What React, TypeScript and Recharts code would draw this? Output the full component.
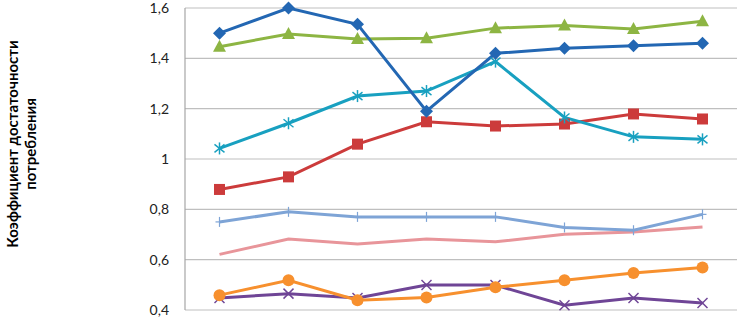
import React from "react";
import { LineChart, Line, XAxis, YAxis, CartesianGrid } from "recharts";

// 8 periods, no visible x labels in the reference crop
const periods = ["1", "2", "3", "4", "5", "6", "7", "8"];

const darkBlue = [1.5, 1.6, 1.535, 1.19, 1.42, 1.44, 1.45, 1.46];
const green = [1.446, 1.497, 1.477, 1.48, 1.52, 1.53, 1.517, 1.547];
const cyan = [1.042, 1.142, 1.25, 1.27, 1.387, 1.165, 1.088, 1.078];
const red = [0.879, 0.929, 1.059, 1.148, 1.131, 1.139, 1.179, 1.159];
const lightBlue = [0.75, 0.79, 0.77, 0.77, 0.77, 0.728, 0.717, 0.78];
const pink = [0.621, 0.682, 0.662, 0.682, 0.671, 0.701, 0.71, 0.73];
const orange = [0.459, 0.518, 0.439, 0.45, 0.49, 0.518, 0.547, 0.569];
const purple = [0.448, 0.465, 0.448, 0.499, 0.499, 0.419, 0.448, 0.428];

const yTicks = [0.4, 0.6, 0.8, 1, 1.2, 1.4, 1.6];

const data = periods.map((p, i) => ({
  period: p,
  darkBlue: darkBlue[i],
  green: green[i],
  cyan: cyan[i],
  red: red[i],
  lightBlue: lightBlue[i],
  pink: pink[i],
  orange: orange[i],
  purple: purple[i],
}));

type Shape = "diamond" | "triangle" | "star" | "square" | "plus" | "circle" | "x";

// marker renderer, Excel-like shapes
function makeDot(shape: Shape, color: string) {
  return (props: any) => {
    const { cx, cy, index } = props;
    const key = `${shape}-${index}`;
    if (cx == null || cy == null) return <g key={key} />;
    switch (shape) {
      case "diamond":
        return (
          <path key={key} d={`M${cx},${cy - 6.5}L${cx + 6.5},${cy}L${cx},${cy + 6.5}L${cx - 6.5},${cy}Z`} fill={color} />
        );
      case "triangle":
        return (
          <path key={key} d={`M${cx},${cy - 7}L${cx + 6.5},${cy + 5}L${cx - 6.5},${cy + 5}Z`} fill={color} />
        );
      case "square":
        return <rect key={key} x={cx - 5.5} y={cy - 5.5} width={11} height={11} fill={color} />;
      case "circle":
        return <circle key={key} cx={cx} cy={cy} r={6} fill={color} />;
      case "star":
        return (
          <g key={key} stroke={color} strokeWidth={1.5}>
            <line x1={cx} y1={cy - 6} x2={cx} y2={cy + 6} />
            <line x1={cx - 5} y1={cy - 4} x2={cx + 5} y2={cy + 4} />
            <line x1={cx - 5} y1={cy + 4} x2={cx + 5} y2={cy - 4} />
          </g>
        );
      case "x":
        return (
          <g key={key} stroke={color} strokeWidth={1.5}>
            <line x1={cx - 5} y1={cy - 5} x2={cx + 5} y2={cy + 5} />
            <line x1={cx - 5} y1={cy + 5} x2={cx + 5} y2={cy - 5} />
          </g>
        );
      case "plus":
        return (
          <g key={key} stroke={color} strokeWidth={1.2}>
            <line x1={cx} y1={cy - 5} x2={cx} y2={cy + 5} />
            <line x1={cx - 4} y1={cy} x2={cx + 4} y2={cy} />
          </g>
        );
    }
    return <g key={key} />;
  };
}

const series: { key: string; color: string; shape: Shape | null }[] = [
  { key: "pink", color: "#E8959A", shape: null },
  { key: "lightBlue", color: "#7EA4D6", shape: "plus" },
  { key: "purple", color: "#6F4596", shape: "x" },
  { key: "orange", color: "#F7902E", shape: "circle" },
  { key: "red", color: "#CC3B3B", shape: "square" },
  { key: "cyan", color: "#18A0C0", shape: "star" },
  { key: "green", color: "#8DB543", shape: "triangle" },
  { key: "darkBlue", color: "#2367B3", shape: "diamond" },
];

function YTitle(props: any) {
  const vb = props.viewBox || { x: 0, y: 0, height: 0 };
  const cy = vb.y + vb.height / 2 - 15;
  return (
    <g fontFamily="Lato, sans-serif" fontWeight={700} fontSize={15} fill="#000">
      <text x={12} y={cy} transform={`rotate(-90 12 ${cy})`} textAnchor="middle" dominantBaseline="central">
        Коэффициент достаточности
      </text>
      <text x={30} y={cy} transform={`rotate(-90 30 ${cy})`} textAnchor="middle" dominantBaseline="central">
        потребления
      </text>
    </g>
  );
}

export default function App() {
  return (
    <div style={{ position: "absolute", left: 0, top: 0, width: 737, height: 320, background: "#fff" }}>
      <LineChart width={737} height={320} data={data} margin={{ top: 8, right: 0, bottom: 10, left: 0 }}>
        <CartesianGrid horizontal vertical={false} stroke="#BFBFBF" strokeWidth={1.2} />
        <XAxis dataKey="period" hide padding={{ left: 34.5, right: 34.5 }} />
        <YAxis
          width={185}
          domain={[0.4, 1.6]}
          ticks={yTicks}
          interval={0}
          tickLine={false}
          tickMargin={10}
          axisLine={{ stroke: "#A6A6A6", strokeWidth: 1.2 }}
          tick={{ fontFamily: "Lato, sans-serif", fontSize: 14, fill: "#222" }}
          tickFormatter={(v: number) => String(v).replace(".", ",")}
          label={{ content: <YTitle /> }}
        />
        {series.map((s) => (
          <Line
            key={s.key}
            type="linear"
            dataKey={s.key}
            stroke={s.color}
            strokeWidth={3}
            dot={s.shape ? makeDot(s.shape, s.color) : false}
            activeDot={false}
            isAnimationActive={false}
          />
        ))}
      </LineChart>
    </div>
  );
}
